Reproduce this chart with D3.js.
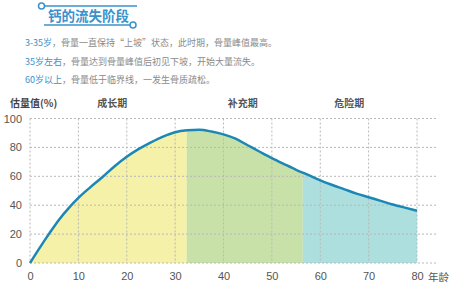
<!DOCTYPE html>
<html>
<head>
<meta charset="utf-8">
<script src="https://cdn.jsdelivr.net/npm/d3@7"></script>
<style>
  body { margin: 0; background: #fff; }
  svg { display: block; font-family: "Noto Sans CJK SC", "Noto Sans", sans-serif; }
  .grid line { stroke: #b8b8b8; stroke-dasharray: 2,2; stroke-width: 1; }
  .tick text { fill: #555; font-size: 11px; font-family: "Liberation Sans", Arial, sans-serif; }
</style>
</head>
<body>
<svg id="chart" width="450" height="290"></svg>
<script>
var ages   = [0, 2, 4, 6, 8, 10, 12.5, 15, 17.5, 20, 22.5, 25, 27.5, 30, 32.5, 35, 37.5, 40, 42.5, 45, 47.5, 50, 52.5, 55, 57.5, 60, 62.5, 65, 67.5, 70, 72.5, 75, 77.5, 80];
var values = [0, 10.5, 20.5, 30, 38, 45, 52.5, 59.5, 67, 73.5, 79, 83.5, 87.5, 90.5, 91.8, 92.2, 91, 89, 86, 81.5, 77, 72.6, 68.5, 64.5, 61, 57.2, 54, 51, 48, 45.5, 43, 40.5, 38.3, 36.2];

var phases = [
  {name: "成长期", from: 0,    to: 32.4, color: "#f5f1a8", label: 17},
  {name: "补充期", from: 32.4, to: 56.4, color: "#c8e1a9", label: 44},
  {name: "危险期", from: 56.4, to: 80,   color: "#acdfdd", label: 66}
];

var xTicks = [0, 10, 20, 30, 40, 50, 60, 70, 80];
var yTicks = [0, 20, 40, 60, 80, 100];

var notes = [
  ["3-35岁", "，骨量一直保持“上坡”状态，此时期，骨量峰值最高。"],
  ["35岁左右", "，骨量达到骨量峰值后初见下坡，开始大量流失。"],
  ["60岁以上", "，骨量低于临界线，一发生骨质疏松。"]
];

var svg = d3.select("#chart");
var blue = "#3a92cc";

// header
var head = svg.append("g");
head.append("line").attr("x1", 44).attr("x2", 137).attr("y1", 6).attr("y2", 6)
  .attr("stroke", blue).attr("stroke-width", 1.5);
head.append("circle").attr("cx", 41.5).attr("cy", 6).attr("r", 3)
  .attr("fill", "#fff").attr("stroke", blue).attr("stroke-width", 1.5);
head.append("line").attr("x1", 44).attr("x2", 130).attr("y1", 25).attr("y2", 25)
  .attr("stroke", blue).attr("stroke-width", 1.5);
head.append("circle").attr("cx", 133).attr("cy", 25).attr("r", 3)
  .attr("fill", "#fff").attr("stroke", blue).attr("stroke-width", 1.5);
head.append("text").attr("x", 48).attr("y", 20.5)
  .attr("fill", blue).attr("font-size", "13.5px").attr("font-weight", "bold")
  .text("钙的流失阶段");

notes.forEach(function(n, i) {
  var t = svg.append("text").attr("x", 25).attr("y", 46 + i * 18.5)
    .attr("font-size", "9px");
  t.append("tspan").attr("fill", blue).text(n[0]);
  t.append("tspan").attr("fill", "#8a8a8a").text(n[1]);
});

// chart
var x = d3.scaleLinear().domain([0, 80]).range([30, 417]);
var y = d3.scaleLinear().domain([0, 100]).range([263, 118.5]);

var data = ages.map(function(a, i) { return {age: a, v: values[i]}; });

var defs = svg.append("defs");
phases.forEach(function(p, i) {
  defs.append("clipPath").attr("id", "clip" + i)
    .append("rect")
    .attr("x", x(p.from)).attr("y", y(100))
    .attr("width", x(p.to) - x(p.from)).attr("height", y(0) - y(100));
});

var area = d3.area()
  .x(function(d) { return x(d.age); })
  .y0(y(0))
  .y1(function(d) { return y(d.v); })
  .curve(d3.curveMonotoneX);

phases.forEach(function(p, i) {
  svg.append("path").datum(data)
    .attr("clip-path", "url(#clip" + i + ")")
    .attr("fill", p.color)
    .attr("d", area);
});

// grid
var grid = svg.append("g").attr("class", "grid");
grid.selectAll(".h").data(yTicks).enter().append("line")
  .attr("x1", x(0)).attr("x2", 438)
  .attr("y1", function(d) { return y(d); }).attr("y2", function(d) { return y(d); });
grid.selectAll(".v").data(xTicks).enter().append("line")
  .attr("x1", function(d) { return x(d); }).attr("x2", function(d) { return x(d); })
  .attr("y1", y(100)).attr("y2", y(0));

// axes
var xAxis = svg.append("g").attr("transform", "translate(0," + (y(0) + 2) + ")")
  .call(d3.axisBottom(x).tickValues(xTicks).tickSize(0).tickPadding(7));
xAxis.select(".domain").remove();

var yAxis = svg.append("g").attr("transform", "translate(" + (x(0) - 4) + ",0)")
  .call(d3.axisLeft(y).tickValues(yTicks).tickSize(0).tickPadding(4));
yAxis.select(".domain").remove();

// line
var line = d3.line()
  .x(function(d) { return x(d.age); })
  .y(function(d) { return y(d.v); })
  .curve(d3.curveMonotoneX);

svg.append("path").datum(data)
  .attr("fill", "none")
  .attr("stroke", "#1c87b5")
  .attr("stroke-width", 2.5)
  .attr("d", line);

// labels
svg.append("text").attr("x", 10).attr("y", 107)
  .attr("font-size", "10px").attr("font-weight", "bold").attr("fill", "#444")
  .text("估量值(%)");

svg.selectAll(".phase").data(phases).enter().append("text")
  .attr("x", function(d) { return x(d.label); })
  .attr("y", 107)
  .attr("text-anchor", "middle")
  .attr("font-size", "10px").attr("font-weight", "bold").attr("fill", "#555")
  .text(function(d) { return d.name; });

svg.append("text").attr("x", 428).attr("y", 281)
  .attr("font-size", "10.5px").attr("fill", "#555")
  .text("年龄");
</script>
</body>
</html>
